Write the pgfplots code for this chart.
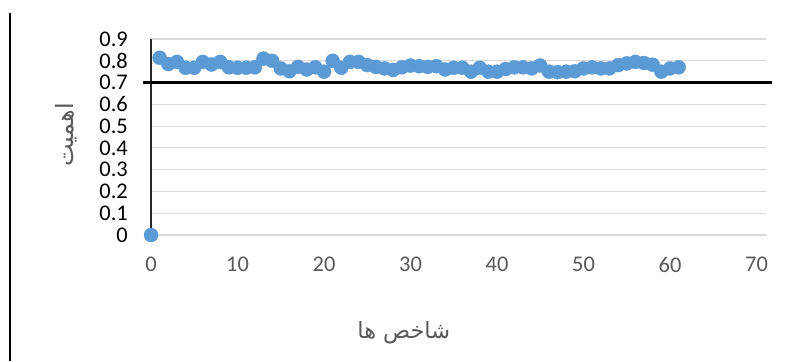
\documentclass[border=0pt]{standalone}
\usepackage{pgfplots}
\pgfplotsset{compat=1.18}
\usepackage{fontspec}
\setmainfont{Carlito}
\newfontfamily\arabicfont[Script=Arabic]{DejaVu Sans}
\TeXXeTstate=1
\definecolor{pt}{HTML}{5B9BD5}
\definecolor{gridc}{HTML}{D9D9D9}
\definecolor{lbl}{HTML}{595959}
\pgfplotstableread{
x y
0 0
1 0.814
2 0.785
3 0.795
4 0.768
5 0.768
6 0.795
7 0.783
8 0.795
9 0.77
10 0.768
11 0.768
12 0.77
13 0.81
14 0.80
15 0.765
16 0.752
17 0.772
18 0.76
19 0.77
20 0.75
21 0.80
22 0.768
23 0.795
24 0.795
25 0.78
26 0.772
27 0.765
28 0.758
29 0.77
30 0.778
31 0.775
32 0.772
33 0.775
34 0.76
35 0.768
36 0.768
37 0.75
38 0.768
39 0.75
40 0.75
41 0.762
42 0.77
43 0.77
44 0.765
45 0.778
46 0.75
47 0.748
48 0.75
49 0.752
50 0.765
51 0.77
52 0.765
53 0.765
54 0.78
55 0.788
56 0.795
57 0.79
58 0.782
59 0.75
60 0.765
61 0.77
}\datatable
\begin{document}
\begin{tikzpicture}[x=1bp,y=1bp]
\path[use as bounding box] (0,0) rectangle (795,361);
\draw[black, line width=1.5bp] (10,0) -- (10,348);
\begin{axis}[
  at={(151bp,126bp)}, anchor=south west,
  scale only axis, width=615bp, height=196bp,
  xmin=0, xmax=71.1, ymin=0, ymax=0.9,
  xtick={0,10,20,30,40,50,60,70},
  xticklabels={0,10,20,30,40,50,60,70},
  ytick={0,0.1,0.2,0.3,0.4,0.5,0.6,0.7,0.8,0.9},
  yticklabels={0,0.1,0.2,0.3,0.4,0.5,0.6,0.7,0.8,0.9},
  axis lines=left,
  axis line style={-, draw=black!85, line width=1.2bp},
  x axis line style={draw=none},
  major tick length=0pt,
  tick style={draw=none},
  ymajorgrids,
  grid style={gridc, line width=1.2bp},
  clip=false,
  yticklabel style={anchor=east, inner sep=0pt, xshift=-23bp, font=\fontsize{22.5}{22.5}\selectfont, text=black},
  xticklabel style={anchor=north, inner sep=0pt, yshift=-22bp, font=\fontsize{22.5}{22.5}\selectfont, text=lbl},
  xlabel={\arabicfont\beginR شاخص ها\endR},
  ylabel={\arabicfont\beginR اهمیت\endR},
  xlabel style={at={(axis description cs:0.411,-0.5)}, anchor=center, font=\fontsize{22.5}{22.5}\selectfont, text=lbl},
  ylabel style={at={(axis description cs:-0.138,0.51)}, anchor=center, font=\fontsize{24}{24}\selectfont, text=lbl},
]
\draw[black, line width=2.5bp] (axis cs:-0.92,0.7) -- (axis cs:71.8,0.7);
\addplot[only marks, mark=*, mark size=7bp, mark options={fill=pt, draw=pt}] table[x=x,y=y] {\datatable};
\end{axis}
\end{tikzpicture}
\end{document}
